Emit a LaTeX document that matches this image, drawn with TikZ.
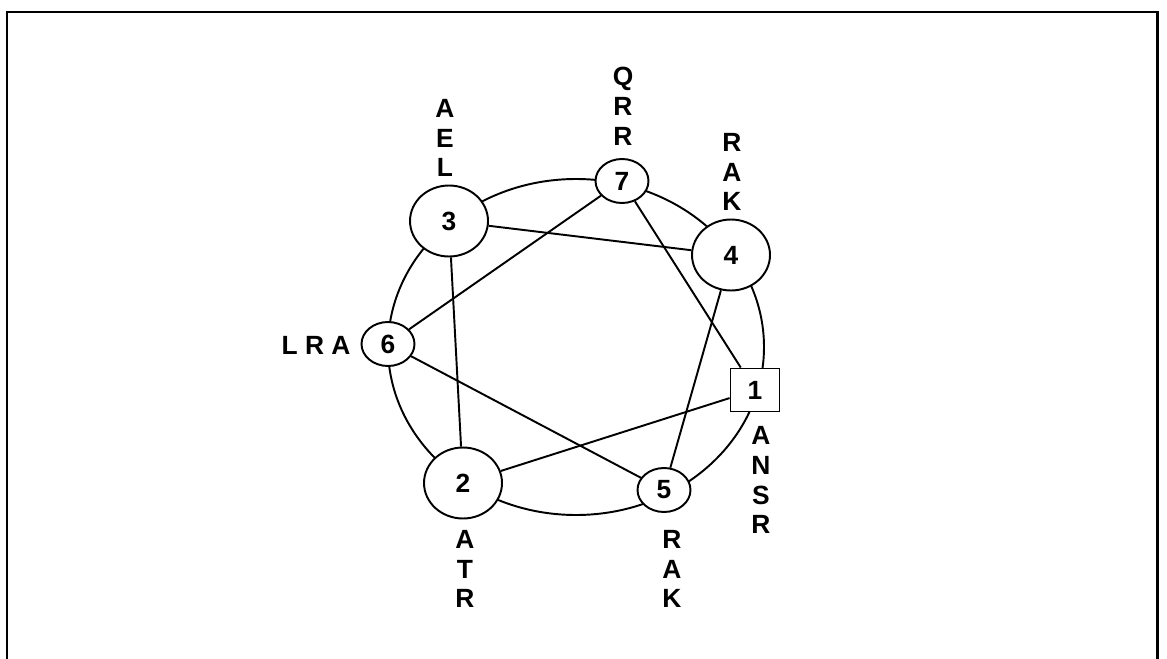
\documentclass[tikz,border=0pt]{standalone}
\usepackage{fontspec}
\setmainfont{Liberation Sans}
\usetikzlibrary{shapes.geometric}

\tikzset{
  lettering/.style={font=\fontsize{15}{17}\selectfont\bfseries},
  bignode/.style={draw, ellipse, fill=white, line width=1.1pt, inner sep=0pt,
    minimum width=1.56cm, minimum height=1.42cm, lettering},
  smallnode/.style={draw, ellipse, fill=white, line width=1.1pt, inner sep=0pt,
    minimum width=1.06cm, minimum height=0.88cm, lettering},
  boxnode/.style={draw, rectangle, fill=white, line width=1.1pt, inner sep=0pt,
    minimum width=0.98cm, minimum height=0.86cm, lettering},
  tag/.style={align=center, inner sep=0pt, lettering},
  link/.style={line width=1.1pt}
}

\begin{document}
\begin{tikzpicture}[x=0.02cm, y=-0.02cm]
  \useasboundingbox (0,0) rectangle (1167,659);
  % frame
  \draw[line width=1.7pt] (7,659) -- (7,12) -- (1157,12) -- (1157,659);

  % ring
  \coordinate (hub) at (576,347);
  \draw[link] (hub) ellipse (188 and 168);

  % nodes
  \node[boxnode]   (n1) at (755,390) {1};
  \node[bignode]   (n2) at (463,483) {2};
  \node[bignode]   (n3) at (449,221) {3};
  \node[bignode]   (n4) at (731,255) {4};
  \node[smallnode] (n5) at (664,490) {5};
  \node[smallnode] (n6) at (388,344) {6};
  \node[smallnode] (n7) at (622,181) {7};

  % labels
  \node[tag] (t1) at (761,480) {A\\N\\S\\R};
  \node[tag] (t2) at (465,569) {A\\T\\R};
  \node[tag] (t3) at (445,138) {A\\E\\L};
  \node[tag] (t4) at (732,172) {R\\A\\K};
  \node[tag] (t5) at (672,569) {R\\A\\K};
  \node[tag] (t6) at (316,345) {L R A};
  \node[tag] (t7) at (623,106) {Q\\R\\R};

  % chords
  \draw[link] (n3) -- (n4);
  \draw[link] (n3) -- (n2);
  \draw[link] (n7) -- (n6);
  \draw[link] (n7) -- (n1);
  \draw[link] (n4) -- (n5);
  \draw[link] (n6) -- (n5);
  \draw[link] (n1) -- (n2);
\end{tikzpicture}
\end{document}
